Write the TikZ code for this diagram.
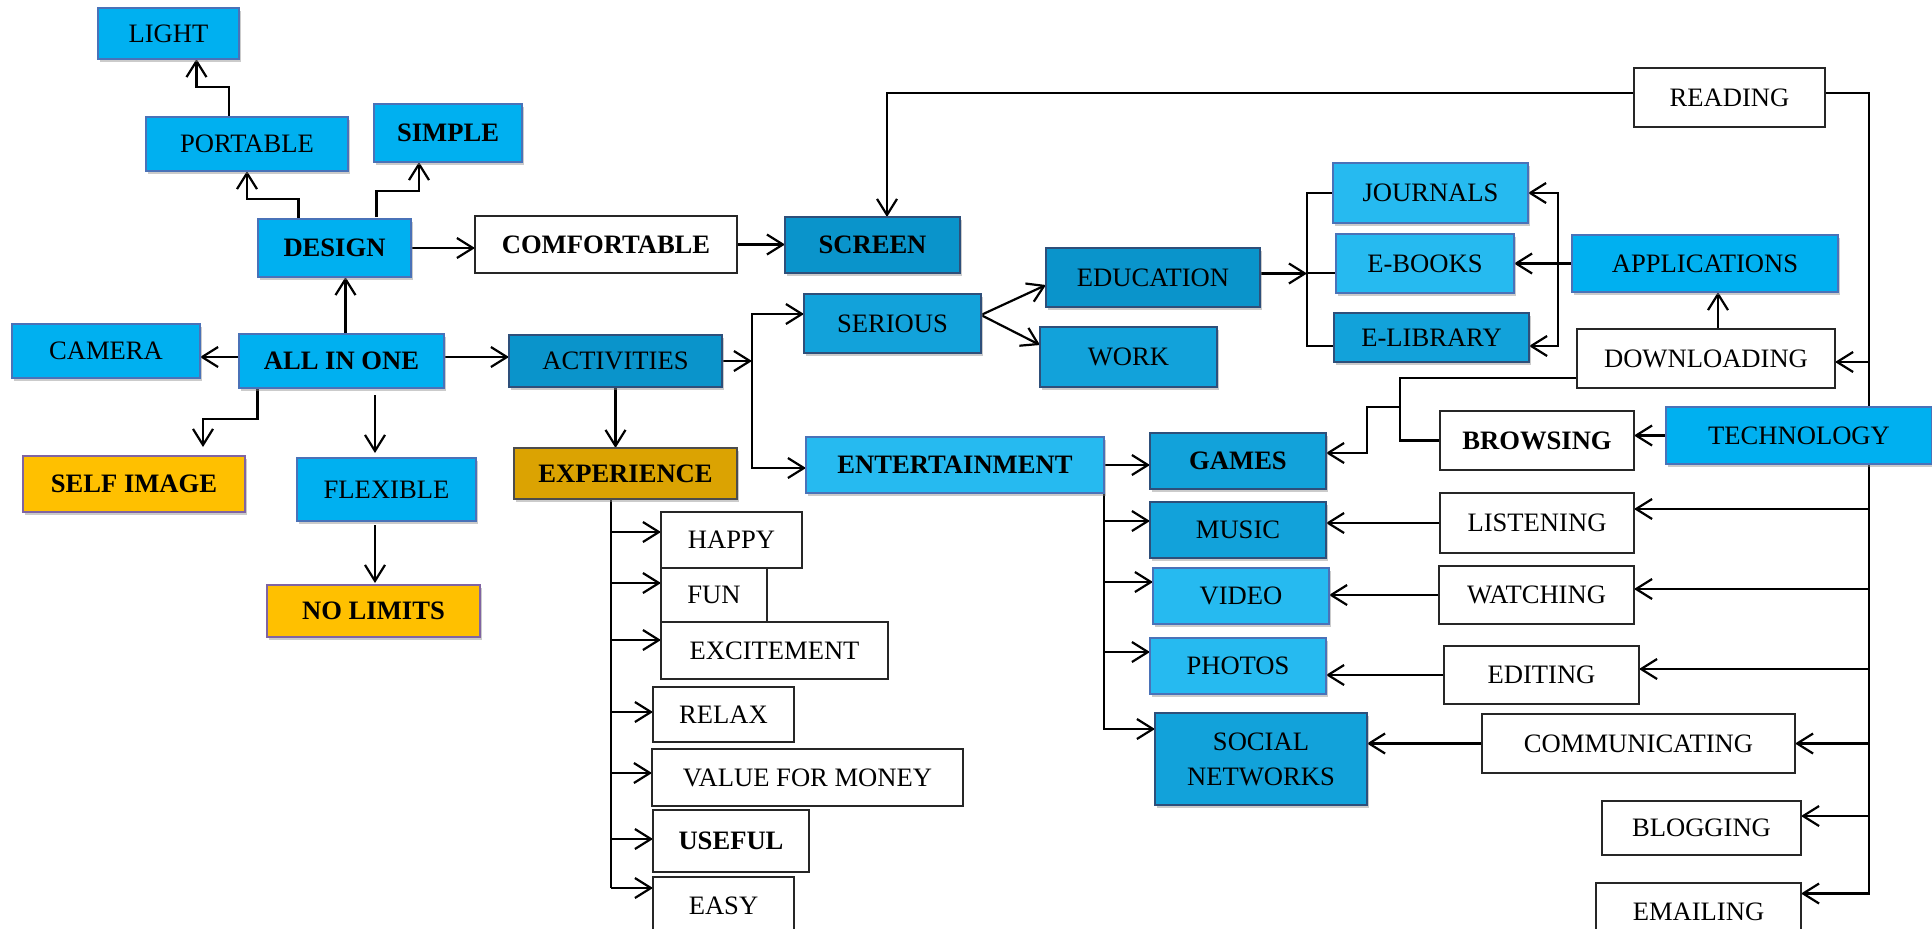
\documentclass[tikz,border=0pt]{standalone}
\usepackage{fontspec}
\setmainfont{Liberation Serif}
\usetikzlibrary{arrows.meta,shadows,backgrounds}

\definecolor{skyblue}{HTML}{00B0F0}
\definecolor{lightsky}{HTML}{26BAF0}
\definecolor{midsky}{HTML}{12A2DA}
\definecolor{darksky}{HTML}{0A94CB}
\definecolor{boxline}{HTML}{4A72B8}
\definecolor{darkline}{HTML}{2E4F7A}
\definecolor{amber}{HTML}{FFC000}
\definecolor{darkamber}{HTML}{DBA302}
\definecolor{plum}{HTML}{8064A2}

\tikzset{
  base/.style={rectangle, inner sep=0pt, outer sep=0pt, align=center, font=\fontsize{13.3}{17.5}\selectfont},
  bold/.style={font=\fontsize{13.3}{17.5}\selectfont\bfseries},
  skybox/.style={base, fill=skyblue, draw=boxline, line width=0.9pt,
    drop shadow={shadow xshift=0.8pt, shadow yshift=-1.5pt, fill=black!45, opacity=0.45}},
  lightbox/.style={skybox, fill=lightsky},
  midbox/.style={skybox, fill=midsky, draw=darkline, line width=0.6pt},
  darkbox/.style={skybox, fill=darksky, draw=darkline, line width=0.6pt},
  amberbox/.style={skybox, fill=amber, draw=plum},
  plainbox/.style={base, fill=white, draw=black!85, line width=0.6pt},
  link/.style={line width=1.1pt, >={Straight Barb[length=8pt,width=10pt]}},
}

\begin{document}
\begin{tikzpicture}[x=0.5pt, y=-0.5pt]
    \useasboundingbox (0,0) rectangle (1932,928);

    % left part
    \node[skybox, minimum width=70.5pt, minimum height=25.5pt] (light) at (168.5,33.5) {LIGHT};
    \node[skybox, minimum width=101pt, minimum height=27pt] (portable) at (247,144) {PORTABLE};
    \node[skybox, bold, minimum width=74pt, minimum height=29pt] (simple) at (448,133) {SIMPLE};
    \node[skybox, bold, minimum width=76.5pt, minimum height=29pt] (design) at (334.5,248) {DESIGN};
    \node[skybox, minimum width=94pt, minimum height=27pt] (camera) at (106,351) {CAMERA};
    \node[skybox, bold, minimum width=102.5pt, minimum height=27pt] (allinone) at (341.5,361) {ALL IN ONE};
    \node[amberbox, bold, minimum width=111pt, minimum height=28pt] (selfimage) at (134,484) {SELF IMAGE};
    \node[skybox, minimum width=89.5pt, minimum height=31.5pt] (flexible) at (386.5,489.5) {FLEXIBLE};
    \node[amberbox, bold, minimum width=106.5pt, minimum height=26pt] (nolimits) at (373.5,611) {NO LIMITS};

    % middle part
    \node[plainbox, bold, minimum width=131pt, minimum height=28.5pt] (comfortable) at (606,244.5) {COMFORTABLE};
    \node[darkbox, bold, minimum width=87.5pt, minimum height=28pt] (screen) at (872.5,245) {SCREEN};
    \node[darkbox, minimum width=106.5pt, minimum height=26pt] (activities) at (615.5,361) {ACTIVITIES};
    \node[skybox, bold, fill=darkamber, draw=black!70, line width=0.6pt, minimum width=111.5pt, minimum height=25.5pt] (experience) at (625.5,473.5) {EXPERIENCE};
    \node[midbox, minimum width=88.5pt, minimum height=29.5pt] (serious) at (892.5,323.5) {SERIOUS};
    \node[lightbox, bold, minimum width=149pt, minimum height=28pt] (entertainment) at (955,465) {ENTERTAINMENT};
    \node[darkbox, minimum width=107pt, minimum height=29.5pt] (education) at (1153,277.5) {EDUCATION};
    \node[midbox, minimum width=88.5pt, minimum height=30pt] (work) at (1128.5,357) {WORK};

    % experience list
    \node[plainbox, minimum width=70.5pt, minimum height=28pt] (happy) at (731.5,540) {HAPPY};
    \node[plainbox, minimum width=53pt, minimum height=27pt] (fun) at (714,595) {FUN};
    \node[plainbox, minimum width=113.5pt, minimum height=28.5pt] (excitement) at (774.5,650.5) {EXCITEMENT};
    \node[plainbox, minimum width=70.5pt, minimum height=27.5pt] (relax) at (723.5,714.5) {RELAX};
    \node[plainbox, minimum width=155.5pt, minimum height=28.5pt] (value) at (807.5,777.5) {VALUE FOR MONEY};
    \node[plainbox, bold, minimum width=78pt, minimum height=31pt] (useful) at (731,841) {USEFUL};
    \node[plainbox, minimum width=70.5pt, minimum height=29pt] (easy) at (723.5,906) {EASY};

    % right part
    \node[lightbox, minimum width=97.5pt, minimum height=30pt] (journals) at (1430.5,193) {JOURNALS};
    \node[lightbox, minimum width=89pt, minimum height=29.5pt] (ebooks) at (1425,263.5) {E-BOOKS};
    \node[midbox, minimum width=97.5pt, minimum height=24.5pt] (elibrary) at (1431.5,337.5) {E-LIBRARY};
    \node[skybox, minimum width=133pt, minimum height=28.5pt] (applications) at (1705,263.5) {APPLICATIONS};
    \node[plainbox, minimum width=129pt, minimum height=29.5pt] (downloading) at (1706,358.5) {DOWNLOADING};
    \node[plainbox, minimum width=95.5pt, minimum height=29.5pt] (reading) at (1729.5,97.5) {READING};
    \node[plainbox, bold, minimum width=97pt, minimum height=29.5pt] (browsing) at (1537,440.5) {BROWSING};
    \node[skybox, minimum width=133pt, minimum height=28.5pt] (technology) at (1799,435.5) {TECHNOLOGY};
    \node[midbox, bold, minimum width=88pt, minimum height=28pt] (games) at (1238,461) {GAMES};
    \node[midbox, minimum width=88pt, minimum height=28pt] (music) at (1238,530) {MUSIC};
    \node[lightbox, minimum width=88pt, minimum height=28pt] (video) at (1241,596) {VIDEO};
    \node[lightbox, minimum width=88pt, minimum height=28pt] (photos) at (1238,666) {PHOTOS};
    \node[midbox, minimum width=106pt, minimum height=46pt] (social) at (1261,759) {SOCIAL\\NETWORKS};
    \node[plainbox, minimum width=97pt, minimum height=30pt] (listening) at (1537,523) {LISTENING};
    \node[plainbox, minimum width=97.5pt, minimum height=29pt] (watching) at (1536.5,595) {WATCHING};
    \node[plainbox, minimum width=97.5pt, minimum height=29pt] (editing) at (1541.5,675) {EDITING};
    \node[plainbox, minimum width=156.5pt, minimum height=29.5pt] (communicating) at (1638.5,743.5) {COMMUNICATING};
    \node[plainbox, minimum width=99.5pt, minimum height=27pt] (blogging) at (1701.5,828) {BLOGGING};
    \node[plainbox, minimum width=102.5pt, minimum height=28.5pt] (emailing) at (1698.5,911.5) {EMAILING};

    % branch points
    \coordinate (actbar) at (752,363);
    \coordinate (ebar) at (1307,273);
    \coordinate (abar) at (1558,262);
    \coordinate (dbar) at (1400,407);
    \coordinate (trunkend) at (1869,895);
    \coordinate (expbar) at (611,888);

    \begin{scope}[on background layer={link}]
    \draw[->] ([xshift=-18pt]design.north) -- ++(0,-20) -| (portable.south);
    \draw[->] ([xshift=-9pt]portable.north) -- ++(0,-30) -| ([xshift=14pt]light.south);
    \draw[->] ([xshift=21pt,yshift=1pt]design.north) -- ++(0,-26) -| ([xshift=-14.5pt]simple.south);
    \draw[->] (design.east) -- (design.east -| comfortable.west);
    \draw[->] ([xshift=2pt]allinone.north) -- ([xshift=2pt]allinone.north |- design.south);
    \draw[->] ([yshift=2pt]allinone.west) -- ([yshift=2pt]allinone.west -| camera.east);
    \draw[->] ([xshift=-42pt]allinone.south) -- ++(0,31) -| ([xshift=34.5pt,yshift=4.5pt]selfimage.north);
    \draw[->] ([xshift=-5.75pt,yshift=-3.5pt]flexible.north |- allinone.south) -- ([xshift=-5.75pt,yshift=2.5pt]flexible.north);
    \draw[->] ([xshift=-5.75pt,yshift=-2pt]flexible.south) -- ([xshift=-5.75pt,yshift=1pt]flexible.south |- nolimits.north);
    \draw[->] ([yshift=2pt]allinone.east) -- ([yshift=2pt]allinone.east -| activities.west);

    \draw[->] (comfortable.east) -- (comfortable.east -| screen.west);
    \draw[->] ([yshift=2.25pt]reading.west) -| ([xshift=7.25pt]screen.north);
    \draw ([yshift=2.25pt]reading.east) -| (trunkend);

    \draw[->] (activities.east) -- (activities.east -| actbar);
    \draw[<->] ([yshift=4.75pt]serious.west) -| (actbar) |- ([yshift=-1.5pt]entertainment.west);
    \draw[->] (activities.south) -- (activities.south |- experience.north);
    \draw[->] ([yshift=4.25pt]serious.east) -- ([yshift=-3.75pt]education.west);
    \draw[->] ([yshift=4.25pt]serious.east) -- ([yshift=6pt]work.west);

    \draw[->] ([yshift=2pt]education.east) -- ([yshift=2pt]education.east -| ebar);
    \draw (journals.west) -| (ebar) |- ([yshift=-4.25pt]elibrary.west);
    \draw (ebar) -- (ebar -| ebooks.west);
    \draw[->] (applications.west) -- (applications.west -| ebooks.east);
    \draw[<->] (journals.east) -| (abar) |- ([yshift=-4.25pt]elibrary.east);
    \draw[->] ([xshift=6pt]downloading.north) -- ([xshift=6pt]downloading.north |- applications.south);

    \draw ([yshift=-9.75pt]downloading.west) -| (dbar) |- (browsing.west);
    \draw[->] (dbar) -- ++(-33,0) |- ([yshift=4pt]games.east);
    \draw[->] (technology.west) -- (technology.west -| browsing.east);

    \draw[->] (entertainment.east) -- (entertainment.east -| games.west);
    \draw[->] (entertainment.east) |- ([yshift=4.5pt]music.west);
    \draw[->] (entertainment.east) |- ([yshift=7pt]video.west);
    \draw[->] (entertainment.east) |- ([yshift=7pt]photos.west);
    \draw[->] (entertainment.east) |- ([yshift=15pt]social.west);

    \draw[->] (listening.west) -- (listening.west -| music.east);
    \draw[->] (watching.west) -- (watching.west -| video.east);
    \draw[->] (editing.west) -- (editing.west -| photos.east);
    \draw[->] (communicating.west) -- (communicating.west -| social.east);

    \draw[->] ([yshift=-1.75pt]trunkend |- downloading.east) -- ([yshift=-1.75pt]downloading.east);
    \draw[->] ([yshift=7pt]trunkend |- listening.east) -- ([yshift=7pt]listening.east);
    \draw[->] ([yshift=3pt]trunkend |- watching.east) -- ([yshift=3pt]watching.east);
    \draw[->] ([yshift=3pt]trunkend |- editing.east) -- ([yshift=3pt]editing.east);
    \draw[->] (trunkend |- communicating.east) -- (communicating.east);
    \draw[->] ([yshift=6pt]trunkend |- blogging.east) -- ([yshift=6pt]blogging.east);
    \draw[->] ([yshift=9pt]trunkend |- emailing.east) -- ([yshift=9pt]emailing.east);

    \draw (expbar |- experience.south) -- (expbar);
    \draw[->] ([yshift=4pt]expbar |- happy.west) -- ([yshift=4pt]happy.west);
    \draw[->] ([yshift=6pt]expbar |- fun.west) -- ([yshift=6pt]fun.west);
    \draw[->] ([yshift=5.25pt]expbar |- excitement.west) -- ([yshift=5.25pt]excitement.west);
    \draw[->] ([yshift=1.25pt]expbar |- relax.west) -- ([yshift=1.25pt]relax.west);
    \draw[->] ([yshift=2.25pt]expbar |- value.west) -- ([yshift=2.25pt]value.west);
    \draw[->] ([yshift=1pt]expbar |- useful.west) -- ([yshift=1pt]useful.west);
    \draw[->] ([yshift=9pt]expbar |- easy.west) -- ([yshift=9pt]easy.west);
    \end{scope}
\end{tikzpicture}
\end{document}
